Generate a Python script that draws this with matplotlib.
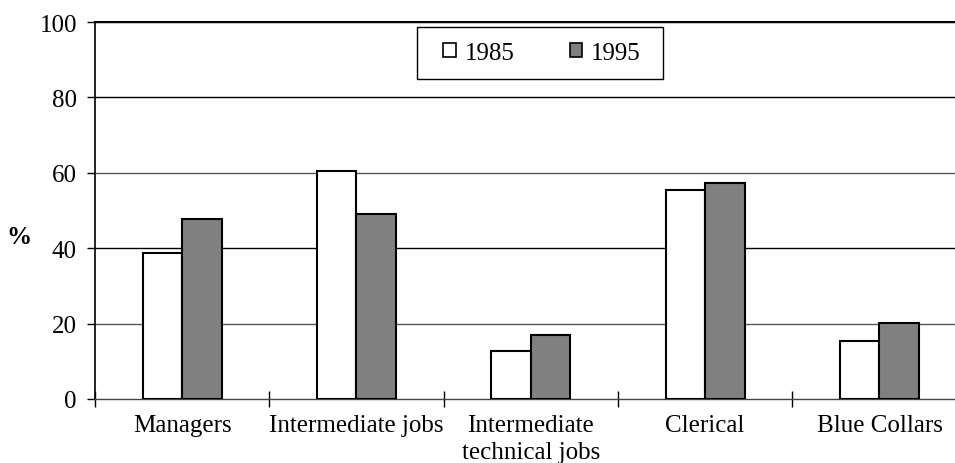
import matplotlib
matplotlib.use("Agg")
import matplotlib.pyplot as plt
import numpy as np
from matplotlib.patches import Patch, Rectangle

categories = ["Managers", "Intermediate jobs", "Intermediate\ntechnical jobs", "Clerical", "Blue Collars"]
series_names = ["1985", "1995"]
values_1985 = [38.7, 60.4, 12.8, 55.5, 15.5]
values_1995 = [47.7, 49.2, 17.1, 57.3, 20.2]
yticks = [0, 20, 40, 60, 80, 100]

plt.rcParams['font.family'] = ['Liberation Serif', 'DejaVu Serif']
FS = 18

fig = plt.figure(figsize=(9.55, 4.64), dpi=100)
W, H = 955, 464
left_px, right_px, top_px, bot_px = 95, 966.6, 23, 400
ax = fig.add_axes([left_px / W, 1 - bot_px / H, (right_px - left_px) / W, (bot_px - top_px) / H])

x = np.arange(len(categories))
bw = 0.227
ax.bar(x - bw / 2, values_1985, bw, color="white", edgecolor="black", linewidth=1.5, zorder=3)
ax.bar(x + bw / 2, values_1995, bw, color="#808080", edgecolor="black", linewidth=1.5, zorder=3)

ax.set_xlim(-0.5, len(categories) - 0.5)
ax.set_ylim(0, 100)
ax.set_yticks(yticks)
ax.set_yticklabels([str(v) for v in yticks], fontsize=FS)
for v in yticks[1:]:
    ax.axhline(v, color="black" if v in (40, 80, 100) else "#555555", linewidth=1.0, zorder=1)

ax.set_xticks(np.arange(len(categories) + 1) - 0.5)
ax.set_xticklabels([])
ax.set_xticks(x, minor=True)
ax.set_xticklabels(categories, minor=True, fontsize=FS, linespacing=1.3)
ax.tick_params(axis="x", which="minor", length=0, pad=11)
ax.tick_params(axis="x", which="major", direction="inout", length=12, width=1)
ax.tick_params(axis="y", direction="out", length=6, width=1, pad=7)

ax.spines["right"].set_visible(False)
ax.spines["top"].set_linewidth(1.5)
ax.spines["left"].set_linewidth(1.2)
ax.spines["bottom"].set_linewidth(1.0)
ax.spines["bottom"].set_color("#444444")

fig.text(19 / W, 1 - 238 / H, "%", fontsize=FS, fontweight="bold", ha="center", va="center")

# legend box
box = Rectangle((417 / W, 1 - 80 / H), 246 / W, 52 / H, transform=fig.transFigure,
                facecolor="white", edgecolor="black", linewidth=1.0, zorder=4)
fig.patches.append(box)

handles = [Patch(facecolor="white", edgecolor="black", linewidth=1.2),
           Patch(facecolor="#808080", edgecolor="black", linewidth=1.2)]
leg = fig.legend(handles, series_names, loc="center",
                 bbox_to_anchor=(542 / W, 1 - 54 / H),
                 ncol=2, fontsize=FS, frameon=False,
                 handlelength=0.5, handleheight=0.5, handletextpad=0.35, columnspacing=2.2,
                 borderpad=0, borderaxespad=0)
leg.set_zorder(6)

fig.savefig("out.png", dpi=100)
